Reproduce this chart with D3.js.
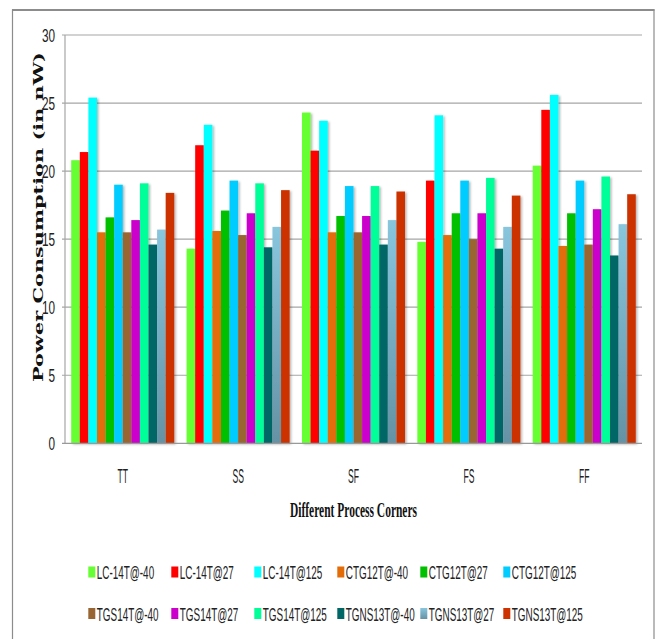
<!DOCTYPE html>
<html><head><meta charset="utf-8">
<script src="https://cdn.jsdelivr.net/npm/d3@7"></script>
<style>html,body{margin:0;padding:0;background:#fff;}svg{display:block;}</style>
</head><body>
<svg id="c" width="660" height="639"></svg>
<script>
const categories = ["TT", "SS", "SF", "FS", "FF"];
const seriesNames = ["LC-14T@-40","LC-14T@27","LC-14T@125","CTG12T@-40","CTG12T@27","CTG12T@125",
                     "TGS14T@-40","TGS14T@27","TGS14T@125","TGNS13T@-40","TGNS13T@27","TGNS13T@125"];
const colors = ["#66ff33","#ff0000","#00ffff","#e36c09","#00c000","#00ccff",
                "#996633","#cc00cc","#00ff99","#006666","#7fb9d0","#cc3300"];
// values per series, in category order TT, SS, SF, FS, FF
const LC14T_m40   = [20.8, 14.3, 24.3, 14.8, 20.4];
const LC14T_27    = [21.4, 21.9, 21.5, 19.3, 24.5];
const LC14T_125   = [25.4, 23.4, 23.7, 24.1, 25.6];
const CTG12T_m40  = [15.5, 15.6, 15.5, 15.3, 14.5];
const CTG12T_27   = [16.6, 17.1, 16.7, 16.9, 16.9];
const CTG12T_125  = [19.0, 19.3, 18.9, 19.3, 19.3];
const TGS14T_m40  = [15.5, 15.3, 15.5, 15.0, 14.6];
const TGS14T_27   = [16.4, 16.9, 16.7, 16.9, 17.2];
const TGS14T_125  = [19.1, 19.1, 18.9, 19.5, 19.6];
const TGNS13T_m40 = [14.6, 14.4, 14.6, 14.3, 13.8];
const TGNS13T_27  = [15.7, 15.9, 16.4, 15.9, 16.1];
const TGNS13T_125 = [18.4, 18.6, 18.5, 18.2, 18.3];
const seriesValues = [LC14T_m40, LC14T_27, LC14T_125, CTG12T_m40, CTG12T_27, CTG12T_125,
                      TGS14T_m40, TGS14T_27, TGS14T_125, TGNS13T_m40, TGNS13T_27, TGNS13T_125];
const yTicks = [0, 5, 10, 15, 20, 25, 30];
const xTitle = "Different Process Corners";
const yTitle = "Power Consumption (in nW)";

const svg = d3.select("#c");
const defs = svg.append("defs");
const f = defs.append("filter").attr("id","sh").attr("x","-20%").attr("y","-5%").attr("width","160%").attr("height","115%");
f.append("feDropShadow").attr("dx",1.5).attr("dy",1).attr("stdDeviation",0.8).attr("flood-color","#000").attr("flood-opacity",0.3);
const g1 = defs.append("linearGradient").attr("id","lb").attr("x1",0).attr("y1",0).attr("x2",0).attr("y2",1);
g1.append("stop").attr("offset","0%").attr("stop-color","#88c6de");
g1.append("stop").attr("offset","100%").attr("stop-color","#6592a4");

// outer frame
svg.append("rect").attr("x",12.5).attr("y",10).attr("width",641.5).attr("height",660)
  .attr("fill","#fff").attr("stroke","#8c8c8c").attr("stroke-width",1.2);
svg.append("line").attr("x1",12).attr("x2",654.5).attr("y1",10).attr("y2",10).attr("stroke","#8c8c8c").attr("stroke-width",2);

const pLeft = 65, pRight = 642, pTop = 35, pBottom = 443.3;
const y = d3.scaleLinear().domain([0,30]).range([pBottom, pTop]);
const x0 = d3.scaleBand().domain(categories).range([pLeft, pRight]).paddingInner(0.107).paddingOuter(0.054);
const x1 = d3.scaleBand().domain(seriesNames).range([0, x0.bandwidth()]);

// gridlines
svg.append("g").selectAll("line").data(yTicks.filter(d=>d>0)).join("line")
  .attr("x1", pLeft-3).attr("x2", pRight).attr("y1", d=>y(d)).attr("y2", d=>y(d))
  .attr("stroke","#a6a6a6").attr("stroke-width",1.2);

// y axis
svg.append("line").attr("x1",pLeft).attr("x2",pLeft).attr("y1",pTop).attr("y2",pBottom).attr("stroke","#a6a6a6").attr("stroke-width",1.2);
svg.append("g").selectAll("text").data(yTicks).join("text")
  .attr("transform", d=>`translate(55,${y(d)+7}) scale(0.62,1)`)
  .attr("text-anchor","end").attr("font-family","Liberation Sans, Arial, sans-serif").attr("font-size",19)
  .attr("fill","#222").text(d=>d);

// bars
const gb = svg.append("g");
categories.forEach((c, ci) => {
  seriesNames.forEach((s, si) => {
    const v = seriesValues[si][ci];
    gb.append("rect")
      .attr("x", x0(c) + x1(s)).attr("width", x1.bandwidth())
      .attr("y", y(v)).attr("height", y(0) - y(v))
      .attr("fill", si === 10 ? "url(#lb)" : colors[si])
      .attr("filter","url(#sh)");
  });
});

// x baseline
svg.append("line").attr("x1",pLeft-3).attr("x2",pRight).attr("y1",pBottom).attr("y2",pBottom).attr("stroke","#999").attr("stroke-width",1.2);

// category labels
svg.append("g").selectAll("text").data(categories).join("text")
  .attr("transform", d=>`translate(${x0(d)+x0.bandwidth()/2},482.5) scale(0.43,1)`)
  .attr("text-anchor","middle").attr("font-family","Liberation Sans, Arial, sans-serif").attr("font-size",20)
  .attr("fill","#222").text(d=>d);

// axis titles
svg.append("text").attr("x",353.5).attr("y",516.5).attr("text-anchor","middle")
  .attr("font-family","Liberation Serif, Times New Roman, serif").attr("font-weight","bold").attr("font-size",21)
  .attr("textLength",127).attr("lengthAdjust","spacingAndGlyphs").attr("fill","#111").text(xTitle);
svg.append("text").attr("transform","translate(43,217) rotate(-90)").attr("text-anchor","middle")
  .attr("font-family","DejaVu Serif, Liberation Serif, serif").attr("font-weight","bold").attr("font-size",13)
  .attr("textLength",330).attr("lengthAdjust","spacingAndGlyphs").attr("fill","#111").text(yTitle);

// legend
const lg = svg.append("g");
seriesNames.forEach((s, i) => {
  const row = Math.floor(i/6), col = i%6;
  const lx = 88.3 + col*83, ly = row === 0 ? 566.5 : 608;
  lg.append("rect").attr("x",lx).attr("y",ly).attr("width",7).attr("height",11)
    .attr("fill", i === 10 ? "url(#lb)" : colors[i]);
  lg.append("text").attr("transform",`translate(${lx+8.5},${ly+12.5}) scale(0.55,1)`)
    .attr("font-family","Liberation Sans, Arial, sans-serif").attr("font-size",18).attr("fill","#222").text(s);
});
</script>
</body></html>
